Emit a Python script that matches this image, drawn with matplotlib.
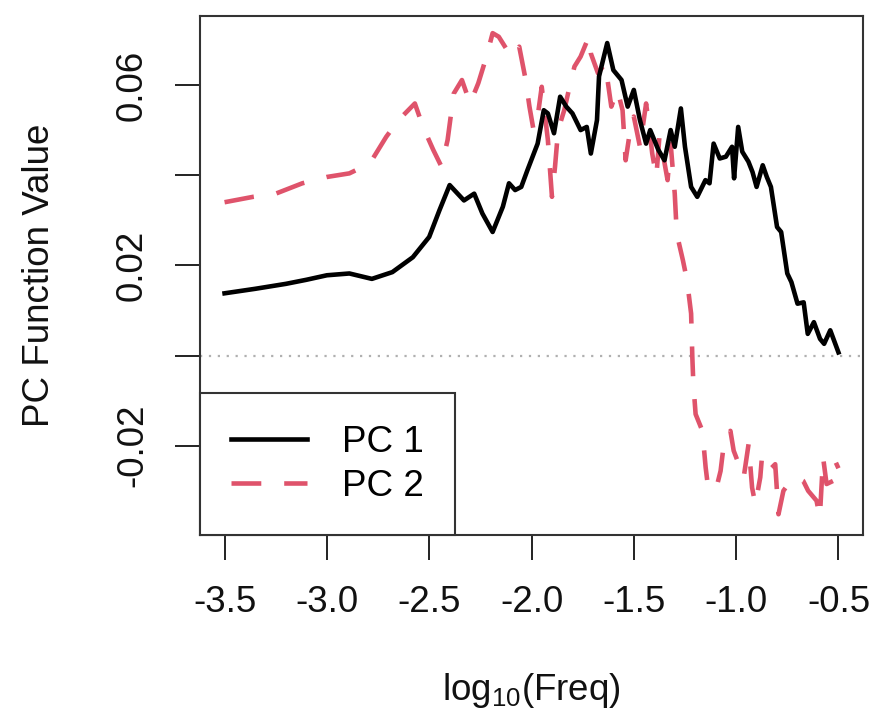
#!/usr/bin/env python3
"""PC function curves against log10 frequency (R base-graphics look)."""

import matplotlib
matplotlib.use('Agg')
import matplotlib.pyplot as plt

plt.rcParams['font.family'] = ['Liberation Sans', 'DejaVu Sans']
plt.rcParams['mathtext.fontset'] = 'custom'
plt.rcParams['mathtext.rm'] = 'Liberation Sans'

# PC 1 (solid black)
pc1_x = [-3.50, -3.35, -3.20, -3.10, -3.00, -2.89, -2.78, -2.68, -2.58, -2.50,
         -2.45, -2.40, -2.33, -2.28, -2.24, -2.19, -2.14, -2.11, -2.08, -2.05,
         -2.02, -1.97, -1.94, -1.92, -1.89, -1.86, -1.83, -1.80, -1.76, -1.73,
         -1.71, -1.68, -1.67, -1.63, -1.60, -1.56, -1.53, -1.50, -1.47, -1.44,
         -1.42, -1.38, -1.35, -1.32, -1.30, -1.27, -1.25, -1.22, -1.19, -1.15,
         -1.13, -1.11, -1.08, -1.05, -1.02, -1.01, -0.99, -0.97, -0.94, -0.92,
         -0.90, -0.87, -0.85, -0.83, -0.80, -0.78, -0.75, -0.73, -0.70, -0.67,
         -0.65, -0.62, -0.59, -0.57, -0.54, -0.50]
pc1_y = [0.0138, 0.0148, 0.0159, 0.0168, 0.0178, 0.0182, 0.0170, 0.0185, 0.0218, 0.0263,
         0.0322, 0.0378, 0.0344, 0.0359, 0.0315, 0.0274, 0.0330, 0.0382, 0.0367, 0.0374,
         0.0411, 0.0470, 0.0544, 0.0537, 0.0493, 0.0574, 0.0552, 0.0537, 0.0500, 0.0507,
         0.0448, 0.0522, 0.0619, 0.0693, 0.0633, 0.0611, 0.0552, 0.0589, 0.0522, 0.0470,
         0.0500, 0.0456, 0.0433, 0.0500, 0.0463, 0.0548, 0.0463, 0.0374, 0.0352, 0.0389,
         0.0382, 0.0470, 0.0437, 0.0441, 0.0463, 0.0393, 0.0507, 0.0452, 0.0430, 0.0407,
         0.0374, 0.0422, 0.0396, 0.0374, 0.0285, 0.0274, 0.0182, 0.0163, 0.0115, 0.0118,
         0.0048, 0.0074, 0.0037, 0.0026, 0.0056, 0.0007]

# PC 2 (dashed red)
pc2_x = [-3.50, -3.36, -3.25, -3.12, -3.00, -2.89, -2.79, -2.71, -2.65, -2.57,
         -2.53, -2.48, -2.44, -2.41, -2.38, -2.34, -2.30, -2.26, -2.22, -2.19,
         -2.16, -2.12, -2.09, -2.06, -2.03, -2.01, -1.99, -1.97, -1.95, -1.92,
         -1.90, -1.885, -1.87, -1.84, -1.81, -1.79, -1.76, -1.72, -1.71, -1.675,
         -1.64, -1.61, -1.58, -1.555, -1.54, -1.52, -1.50, -1.47, -1.44, -1.425,
         -1.41, -1.39, -1.375, -1.355, -1.335, -1.32, -1.30, -1.29, -1.26, -1.24,
         -1.22, -1.214, -1.209, -1.198, -1.165, -1.149, -1.141, -1.10, -1.076, -1.06,
         -1.028, -1.012, -0.987, -0.963, -0.939, -0.922, -0.906, -0.882, -0.874, -0.842,
         -0.809, -0.793, -0.769, -0.745, -0.704, -0.672, -0.648, -0.607, -0.591, -0.575,
         -0.558, -0.526, -0.517, -0.50]
pc2_y = [0.0340, 0.0352, 0.0359, 0.0382, 0.0396, 0.0404, 0.0426, 0.0485, 0.0522, 0.0559,
         0.0507, 0.0456, 0.0419, 0.0478, 0.0581, 0.0611, 0.0559, 0.0604, 0.0663, 0.0715,
         0.0707, 0.0678, 0.0663, 0.0685, 0.0615, 0.0552, 0.0500, 0.0530, 0.0596, 0.0478,
         0.0352, 0.0419, 0.0500, 0.0544, 0.0604, 0.0641, 0.0663, 0.0707, 0.0670, 0.0626,
         0.0648, 0.0552, 0.0589, 0.0544, 0.0433, 0.0493, 0.0530, 0.0463, 0.0559, 0.0507,
         0.0448, 0.0396, 0.0485, 0.0440, 0.0389, 0.0470, 0.0359, 0.0270, 0.0211, 0.0167,
         0.0093, -0.0004, -0.0063, -0.0130, -0.0167, -0.0248, -0.0278, -0.0300, -0.0256, -0.0196,
         -0.0167, -0.0211, -0.0241, -0.0270, -0.0196, -0.0293, -0.0330, -0.0270, -0.0226, -0.0256,
         -0.0241, -0.0352, -0.0300, -0.0285, -0.0270, -0.0278, -0.0300, -0.0322, -0.0359, -0.0226,
         -0.0285, -0.0278, -0.0233, -0.0250]

x_ticks = [-3.5, -3.0, -2.5, -2.0, -1.5, -1.0, -0.5]
x_ticklabels = ['-3.5', '-3.0', '-2.5', '-2.0', '-1.5', '-1.0', '-0.5']
y_ticks = [-0.02, 0.0, 0.02, 0.04, 0.06]
y_ticklabels = ['-0.02', '', '0.02', '', '0.06']

RED = '#DF536B'
FS = 26.5

fig = plt.figure(figsize=(8.77, 7.2), dpi=100)
ax = fig.add_axes([200 / 877, 185 / 720, 663 / 877, 519 / 720])

ax.axhline(0, color='#b0b0b0', linestyle=(0, (1, 3)), linewidth=1.6, zorder=1)
ax.plot(pc1_x, pc1_y, color='black', linewidth=3.3, label='PC 1', zorder=3,
        solid_joinstyle='round')
ax.plot(pc2_x, pc2_y, color=RED, linewidth=3.3, label='PC 2', zorder=2,
        dashes=(6.5, 5))

ax.set_xlim(-3.62, -0.38)
ax.set_ylim(-0.0398, 0.0753)

ax.set_xticks(x_ticks)
ax.set_xticklabels(x_ticklabels)
ax.set_yticks(y_ticks)
ax.set_yticklabels(y_ticklabels, rotation=90, va='center')
ax.tick_params(axis='both', length=18, width=1.4, color='#222222',
               labelsize=FS, labelcolor='#111111')
ax.tick_params(axis='x', pad=18)
ax.tick_params(axis='y', pad=18)
for sp in ax.spines.values():
    sp.set_linewidth(1.5)
    sp.set_color('#333333')

leg = ax.legend(loc='lower left', bbox_to_anchor=(0, 0), borderaxespad=0,
                fontsize=FS, handlelength=2.05, handletextpad=0.95,
                borderpad=0.85, labelspacing=0.25, fancybox=False,
                edgecolor='#333333', framealpha=1)
leg.get_frame().set_linewidth(1.5)

fig.text(531.5 / 877, 1 - 690 / 720, r'log$_{\mathregular{10}}$(Freq)',
         fontsize=FS, ha='center', va='center', color='#111111')
fig.text(40 / 877, 1 - 275 / 720, 'PC Function Value', fontsize=FS,
         rotation=90, ha='center', va='center', color='#111111')

fig.savefig('out.png', dpi=100, facecolor='white')
